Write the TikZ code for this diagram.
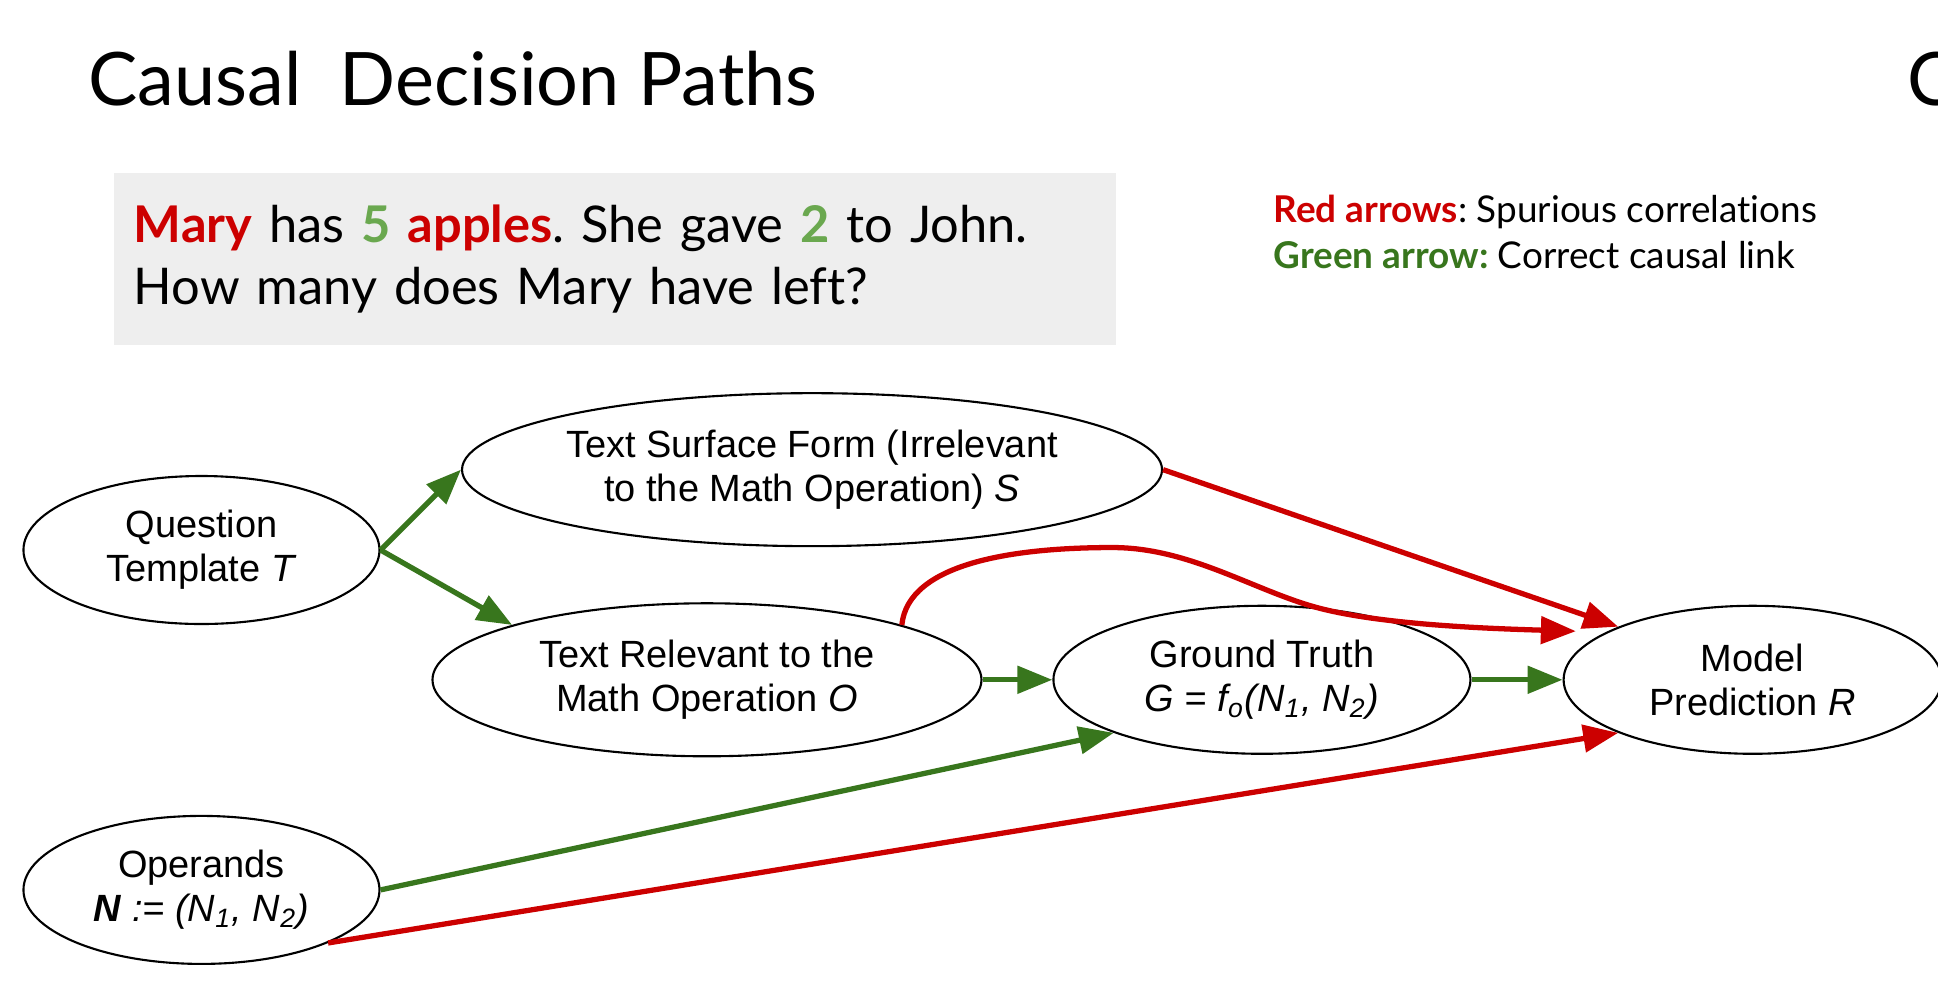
\documentclass[tikz,border=0pt]{standalone}
\usepackage{fontspec}
\setmainfont{Lato}[Ligatures=NoCommon]
\newfontfamily\arialfont{Liberation Sans}
\usepackage{tikz}
\usetikzlibrary{shapes.geometric,arrows.meta,positioning}
\definecolor{spuriousred}{RGB}{204,0,0}
\definecolor{causalgreen}{RGB}{56,118,29}
\definecolor{lightgreen}{RGB}{106,168,79}
\definecolor{boxgray}{RGB}{238,238,238}
\frenchspacing

\begin{document}
\begin{tikzpicture}[
        x=0.01236cm, y=-0.01236cm,
        var/.style={ellipse, draw=black, line width=0.6pt, fill=white, inner sep=0pt, align=center, font=\arialfont\fontsize{10.8}{12.6}\selectfont},
        qbox/.style={rectangle, fill=boxgray, minimum width=10.02cm, minimum height=1.72cm, text width=9.62cm, inner xsep=0.2cm, align=left, font=\fontsize{14.4}{17.6}\selectfont},
        causal/.style={-{Triangle[length=0.35cm,width=0.27cm]}, line width=1.5pt, causalgreen},
        spurious/.style={-{Triangle[length=0.35cm,width=0.27cm]}, line width=1.5pt, spuriousred}
    ]
        \useasboundingbox (0,0) rectangle (1568,799);

        % Title
        \node[anchor=base west, inner sep=0pt, font=\fontsize{21}{25}\selectfont] (title) at (71,85) {Causal\ \ Decision Paths};
        \node[anchor=base west, inner sep=0pt, font=\fontsize{21}{25}\selectfont] (nexttitle) at (1543,85) {C};

        % Example question
        \node[qbox] (question) at (497.5,209.5) {\textcolor{spuriousred}{\textbf{Mary}} has \textcolor{lightgreen}{\textbf{5}} \textcolor{spuriousred}{\textbf{apples}}. She gave \textcolor{lightgreen}{\textbf{2}} to John.\\How many does Mary have left?};

        % Legend
        \node[anchor=base west, inner sep=0pt, align=left, font=\fontsize{10.5}{13}\selectfont] (legend) at (1030,217) {\textcolor{spuriousred}{\textbf{Red arrows}}: Spurious correlations\\\textcolor{causalgreen}{\textbf{Green arrow:}} Correct causal link};

        % Causal graph
        \node[var, minimum width=3.56cm, minimum height=1.48cm] (template) at (163,445) {Question\\Template \textit{T}};
        \node[var, minimum width=7.00cm, minimum height=1.53cm] (surface) at (657,380) {Text Surface Form (Irrelevant\\to the Math Operation) \textit{S}};
        \node[var, minimum width=5.49cm, minimum height=1.53cm] (operation) at (572,550) {Text Relevant to the\\Math Operation \textit{O}};
        \node[var, minimum width=4.17cm, minimum height=1.48cm] (truth) at (1021,550) {Ground Truth\\\textit{G = f\textsubscript{o}(N\textsubscript{1}, N\textsubscript{2})}};
        \node[var, minimum width=3.78cm, minimum height=1.48cm] (prediction) at (1418,550) {Model\\Prediction \textit{R}};
        \node[var, minimum width=3.56cm, minimum height=1.48cm] (operands) at (163,720) {Operands\\\textbf{\textit{N}}\textit{ := (N\textsubscript{1}, N\textsubscript{2})}};

        % Correct causal links
        \draw[causal] (template.east) -- (surface.west);
        \draw[causal] (template.east) -- (operation.north west);
        \draw[causal] (operation.east) -- (truth.west);
        \draw[causal] (truth.east) -- (prediction.west);
        \draw[causal] (operands.east) -- (truth.south west);

        % Spurious correlations
        \draw[spurious] (surface.east) -- (prediction.north west);
        \draw[spurious] (operands.south east) -- (prediction.south west);
        \draw[spurious, shorten >=0.3cm] (operation.north east) .. controls +(5,-50) and +(-80,0) .. (900,443) .. controls +(60,0) and +(-50,-15) .. (1060,490) .. controls +(50,15) and +(-100,-3) .. (prediction.162);

    \end{tikzpicture}
\end{document}
